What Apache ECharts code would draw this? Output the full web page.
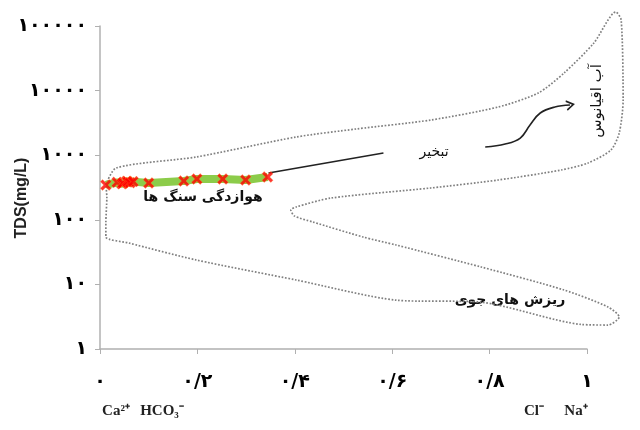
<!DOCTYPE html>
<html>
<head>
<meta charset="utf-8">
<script src="https://cdn.jsdelivr.net/npm/echarts@6/dist/echarts.min.js"></script>
<style>
  html, body { margin: 0; padding: 0; background: #fff; }
  #chart { width: 640px; height: 430px; }
</style>
</head>
<body>
<div id="chart"></div>
<script>
// Gibbs envelope (dotted boundary), x = ratio, y = TDS
var envX = [0.012, 0.033, 0.197, 0.402, 0.525, 0.678, 0.816, 0.898, 0.951, 1.012, 1.057, 1.068, 1.072, 1.064, 1.047, 1.000, 0.945, 0.816, 0.678, 0.473, 0.402, 0.391, 0.398, 0.436, 0.539, 0.607, 0.781, 0.951, 1.041, 1.064, 1.041, 0.986, 0.781, 0.607, 0.402, 0.197, 0.059, 0.012, 0.012, 0.014, 0.012];
var envY = [346, 634, 938, 1914, 2545, 3507, 5572, 9180, 18720, 54560, 164800, 123800, 7150, 2207, 1203, 757, 590, 413, 311, 217, 158, 142, 115, 92.5, 54.2, 40.7, 18.6, 8.19, 4.47, 3.13, 2.35, 2.4, 5.3, 5.7, 11.7, 23.9, 43.7, 54.2, 89.2, 225, 346];

// samples
var sampleX = [0.012, 0.035, 0.045, 0.047, 0.055, 0.057, 0.062, 0.068, 0.100, 0.172, 0.199, 0.252, 0.299, 0.344];
var sampleY = [346, 380, 360, 371, 395, 385, 375, 390, 371, 399, 428, 428, 413, 460];

// evaporation pointer line and curved arrow
var trendX = [0.346, 0.582];
var trendY = [530, 1082];
var arrowX = [0.791, 0.832, 0.863, 0.883, 0.904, 0.934, 0.965];
var arrowY = [1340, 1490, 1845, 2934, 4500, 5572, 5985];

var yTicks = [1, 10, 100, 1000, 10000, 100000];

var fa = function (v) {
    return String(v).replace(/\d/g, function (d) { return '۰۱۲۳۴۵۶۷۸۹'[d]; }).replace('.', '/');
};
var pairs = function (xs, ys) {
    return xs.map(function (x, i) { return [x, ys[i]]; });
};

var chart = echarts.init(document.getElementById('chart'));
var xMark = 'path://M0,2L2,0L5,3L8,0L10,2L7,5L10,8L8,10L5,7L2,10L0,8L3,5Z';
var axisGray = '#b0b0b0';

// grid 0 is the visible frame (x 0..1, TDS 1..1e5); grid 1 keeps the same scale
// (488 px per unit, 64.6 px per decade) but a larger range so the envelope can run past the frame
chart.setOption({
    animation: false,
    grid: [
        { left: 100, right: 53, top: 26, bottom: 81 },
        { left: 100, right: 3.2, top: 0.16, bottom: 81 }
    ],
    xAxis: [{
        type: 'value',
        min: 0,
        max: 1,
        interval: 0.2,
        splitLine: { show: false },
        axisLine: { lineStyle: { color: axisGray, width: 1.5 } },
        axisTick: { show: true, length: 5, lineStyle: { color: axisGray } },
        axisLabel: {
            margin: 24,
            color: '#000',
            fontFamily: 'DejaVu Sans',
            fontWeight: 'bold',
            fontSize: 19,
            formatter: function (v) { return fa(v); }
        }
    }, {
        type: 'value', gridIndex: 1, min: 0, max: 1.1, show: false
    }],
    yAxis: [{
        type: 'log',
        logBase: 10,
        min: 1,
        max: 100000,
        splitLine: { show: false },
        axisLine: { show: true, lineStyle: { color: axisGray, width: 1.5 } },
        axisTick: { show: true, length: 5, lineStyle: { color: axisGray } },
        axisLabel: {
            margin: 13,
            color: '#000',
            fontFamily: 'DejaVu Sans',
            fontWeight: 'bold',
            fontSize: 19,
            formatter: function (v) {
                return yTicks.indexOf(Math.round(v)) >= 0 ? fa(Math.round(v)) : '';
            }
        }
    }, {
        type: 'log', logBase: 10, gridIndex: 1, min: 1, max: Math.pow(10, 5.4), show: false
    }],
    series: [
        {
            type: 'line',
            xAxisIndex: 1,
            yAxisIndex: 1,
            data: pairs(envX, envY),
            smooth: 0.25,
            symbol: 'none',
            lineStyle: { color: '#808080', width: 1.7, type: 'dotted' },
            z: 1
        },
        {
            type: 'line',
            data: pairs(sampleX, sampleY),
            symbol: 'none',
            lineStyle: { color: '#8ccc4a', width: 8 },
            z: 2
        },
        {
            type: 'line',
            data: pairs(trendX, trendY),
            symbol: 'none',
            lineStyle: { color: '#222', width: 1.6 },
            z: 3
        },
        {
            type: 'line',
            data: pairs(arrowX, arrowY).map(function (p, i, a) {
                if (i < a.length - 1) return { value: p, symbol: 'none' };
                return {
                    value: p,
                    symbol: 'path://M0,10L5,0L10,10',
                    symbolSize: [9, 7],
                    symbolRotate: -80,
                    itemStyle: { color: 'none', borderColor: '#222', borderWidth: 1.6 }
                };
            }),
            smooth: 0.4,
            showAllSymbol: true,
            lineStyle: { color: '#222', width: 1.6 },
            z: 3
        },
        {
            type: 'scatter',
            data: pairs(sampleX, sampleY),
            symbol: xMark,
            symbolSize: 11,
            itemStyle: { color: '#ff0000', borderColor: '#ff9a30', borderWidth: 0.4 },
            z: 4
        }
    ],
    graphic: [
        {
            type: 'text', x: 22, y: 198, rotation: Math.PI / 2,
            style: { text: 'TDS(mg/L)', fill: '#222', font: 'bold 16px "Liberation Sans"', align: 'center', verticalAlign: 'middle' }
        },
        {
            type: 'text', x: 203, y: 197,
            style: { text: 'هوازدگی سنگ ها', fill: '#111', font: 'bold 14px "DejaVu Sans"', align: 'center', verticalAlign: 'middle' }
        },
        {
            type: 'text', x: 434, y: 152,
            style: { text: 'تبخیر', fill: '#111', font: '14px "DejaVu Sans"', align: 'center', verticalAlign: 'middle' }
        },
        {
            type: 'text', x: 510, y: 300,
            style: { text: 'ریزش های جوی', fill: '#111', font: 'bold 14px "DejaVu Sans"', align: 'center', verticalAlign: 'middle' }
        },
        {
            type: 'text', x: 597, y: 101, rotation: Math.PI / 2,
            style: { text: 'آب اقیانوس', fill: '#111', font: '15px "DejaVu Sans"', align: 'center', verticalAlign: 'middle' }
        },
        {
            type: 'text', x: 116, y: 411,
            style: { text: 'Ca²⁺', fill: '#222', font: 'bold 15px "Liberation Serif"', align: 'center', verticalAlign: 'middle' }
        },
        {
            type: 'text', x: 162, y: 411,
            style: { text: 'HCO₃⁻', fill: '#222', font: 'bold 15px "Liberation Serif"', align: 'center', verticalAlign: 'middle' }
        },
        {
            type: 'text', x: 534, y: 411,
            style: { text: 'Cl⁻', fill: '#222', font: 'bold 15px "Liberation Serif"', align: 'center', verticalAlign: 'middle' }
        },
        {
            type: 'text', x: 576, y: 411,
            style: { text: 'Na⁺', fill: '#222', font: 'bold 15px "Liberation Serif"', align: 'center', verticalAlign: 'middle' }
        }
    ]
});
</script>
</body>
</html>
